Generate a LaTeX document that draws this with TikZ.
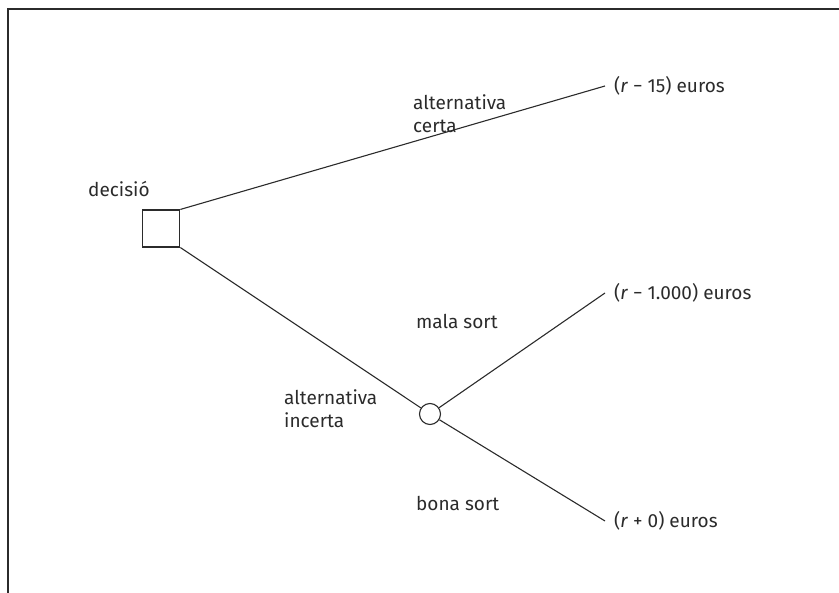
\documentclass[tikz,border=0pt]{standalone}
\usepackage{fontspec}
\setmainfont{Fira Sans}
\definecolor{ink}{HTML}{2B2B2B}
\begin{document}
\begin{tikzpicture}[x=1pt,y=-1pt,
  txt/.style={text=ink, font={\fontsize{19}{23}\selectfont}},
  branch/.style={draw=ink, line width=1.1pt},
  framebar/.style={draw=ink, line width=1.8pt},
  decbox/.style={draw=ink, line width=1.1pt, rectangle, minimum size=37pt, inner sep=0pt},
  chance/.style={draw=ink, line width=1.1pt, circle, minimum size=21pt, inner sep=0pt},
  payoff/.style={txt, anchor=west, inner xsep=9pt, inner ysep=0pt},
  lbl/.style={txt, anchor=west, align=left, inner sep=0pt}]
\useasboundingbox (0,0) rectangle (839,593);
% open frame: top edge and left edge only
\draw[framebar] (839,9) -- (8,9) -- (8,593);

% decision and chance nodes
\node[decbox] (dec) at (161.3,228.5) {};
\node[chance] (ch) at (430,414) {};

% outcomes
\node[payoff] (p1) at (605,86) {(\textit{r} − 15) euros};
\node[payoff] (p2) at (605,293) {(\textit{r} − 1.000) euros};
\node[payoff] (p3) at (605,521) {(\textit{r} + 0) euros};

% branches
\draw[branch] (dec.north east) -- (p1.west);
\draw[branch] (dec.south east) -- (ch);
\draw[branch] (ch) -- (p2.west);
\draw[branch] (ch) -- (p3.west);

% labels
\node[lbl] (ldec) at (88,189) {decisió};
\node[lbl] (lcerta) at (413,114) {alternativa\\certa};
\node[lbl] (lincerta) at (284,409) {alternativa\\incerta};
\node[lbl] (lmala) at (416,321) {mala sort};
\node[lbl] (lbona) at (416,503) {bona sort};
\end{tikzpicture}
\end{document}
